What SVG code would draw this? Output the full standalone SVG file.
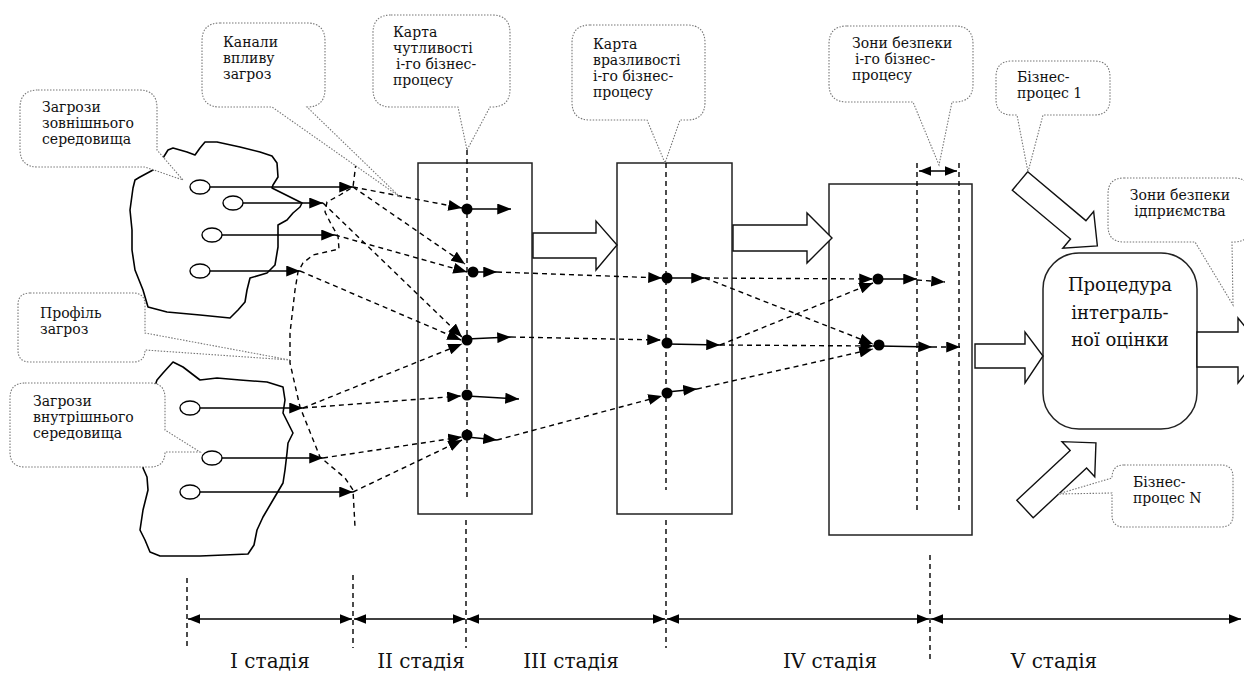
<svg xmlns="http://www.w3.org/2000/svg" width="1244" height="673" viewBox="0 0 1244 673">
<style>
text{font-family:"DejaVu Serif","Liberation Serif",serif;fill:#111}
.ct{font-size:14px}
.st{font-size:20px}
.pt{font-size:18px}
.call{fill:#fff;stroke:#777;stroke-width:1.1;stroke-dasharray:1.5 1.5}
.sol{stroke:#000;stroke-width:1.5;fill:none}
.dsh{stroke:#000;stroke-width:1.4;fill:none;stroke-dasharray:5 4}
.box{fill:#fff;stroke:#222;stroke-width:1.5}
.hol{fill:#fff;stroke:#111;stroke-width:1.4;stroke-linejoin:miter}
.cloud{fill:none;stroke:#000;stroke-width:1.6;stroke-linejoin:round}
.ell{fill:#fff;stroke:#000;stroke-width:1.4}
.dot{fill:#000}
</style>
<defs>
<marker id="ah" viewBox="0 0 10 8" refX="10" refY="4" markerWidth="14" markerHeight="11" markerUnits="userSpaceOnUse" orient="auto-start-reverse"><path d="M0,0 L10,4 L0,8 Z" fill="#000"/></marker>
<marker id="as" viewBox="0 0 10 8" refX="10" refY="4" markerWidth="12" markerHeight="11" markerUnits="userSpaceOnUse" orient="auto-start-reverse"><path d="M0,0 L10,4 L0,8 Z" fill="#000"/></marker>
</defs>
<rect width="1244" height="673" fill="#fff"/>

<g id="cloud-external">
<path class="cloud" d="M163,158 L168,150 L173,148 L187,152 L195,155 L200,148 L205,142 L217,142 L240,147 L260,152 L272,156 L277,163 L278,177 L273,185 L272,188 L302,203 L300,207 L293,213 L287,220 L278,225 L278,247 L275,265 L267,273 L250,278 L247,290 L245,302 L238,310 L230,318 L200,315 L167,312 L148,307 L143,290 L135,270 L132,250 L132,230 L130,210 L133,188 L135,180 L140,177 L153,170 L157,163 Z"/>
<ellipse class="ell" cx="200" cy="187" rx="10" ry="7"/>
<ellipse class="ell" cx="233" cy="203" rx="10" ry="7"/>
<ellipse class="ell" cx="212" cy="235" rx="10" ry="7"/>
<ellipse class="ell" cx="200" cy="271" rx="10" ry="7"/>
</g>
<g id="cloud-internal">
<path class="cloud" d="M157,380 L163,373 L173,362 L183,367 L200,380 L217,378 L240,380 L267,382 L283,387 L285,400 L283,413 L290,427 L293,433 L288,443 L287,453 L285,470 L283,483 L273,500 L263,517 L257,530 L254,545 L248,554 L200,556 L160,556 L150,552 L145,540 L140,530 L143,510 L148,490 L147,477 L143,468 L150,440 L150,400 Z"/>
<ellipse class="ell" cx="190" cy="408" rx="10" ry="7"/>
<ellipse class="ell" cx="212" cy="458" rx="10" ry="7"/>
<ellipse class="ell" cx="190" cy="492" rx="10" ry="7"/>
</g>

<g id="map-sensitivity"><rect class="box" x="418" y="163" width="114" height="351"/></g>
<g id="map-vulnerability"><rect class="box" x="617" y="163" width="115" height="351"/></g>
<g id="safety-zones-box"><rect class="box" x="829" y="184" width="143" height="351"/></g>
<g id="procedure">
<rect class="box" x="1043" y="253" width="154" height="176" rx="36" ry="36"/>
<text class="pt" text-anchor="middle" x="1120" y="291">Процедура</text>
<text class="pt" text-anchor="middle" x="1120" y="319">інтеграль-</text>
<text class="pt" text-anchor="middle" x="1120" y="346">ної оцінки</text>
</g>

<g id="big-arrows">
<polygon class="hol" points="533,233 596,233 596,221 617,245 596,270 596,258 533,258"/>
<polygon class="hol" points="733,225 807,225 807,213 832,238 807,263 807,251 733,251"/>
<polygon class="hol" points="975,344 1025,344 1025,332 1043,356 1025,383 1025,368 975,368"/>
<polygon class="hol" transform="translate(1020,181) rotate(40)" points="0,-12 76,-12 76,-24 101,0 76,24 76,12 0,12"/>
<polygon class="hol" transform="translate(1025,509) rotate(-43)" points="0,-12 73,-12 73,-24 97,0 73,24 73,12 0,12"/>
<polygon class="hol" points="1197,332 1238,332 1238,318 1264,350 1238,383 1238,367 1197,367"/>
</g>

<g id="connectors">
<polyline class="dsh" points="356,163 353,187 340,195 327,202 325,212 331,224 338,236 339,249 313,255 303,263 298,272 295,290 290,333 290,363 300,407 310,432 320,457 345,478 353,490 355,527"/>
<line class="sol" x1="210" y1="187" x2="353" y2="187" marker-end="url(#ah)"/>
<line class="sol" x1="243" y1="203" x2="323" y2="203" marker-end="url(#ah)"/>
<line class="sol" x1="222" y1="235" x2="335" y2="235" marker-end="url(#ah)"/>
<line class="sol" x1="210" y1="271" x2="300" y2="271" marker-end="url(#ah)"/>
<line class="sol" x1="200" y1="408" x2="303" y2="408" marker-end="url(#ah)"/>
<line class="sol" x1="222" y1="458" x2="323" y2="458" marker-end="url(#ah)"/>
<line class="sol" x1="200" y1="492" x2="353" y2="492" marker-end="url(#ah)"/>
<line class="dsh" x1="353" y1="187" x2="462" y2="208" marker-end="url(#ah)"/>
<line class="dsh" x1="353" y1="187" x2="465" y2="264" marker-end="url(#ah)"/>
<line class="dsh" x1="335" y1="235" x2="467" y2="272" marker-end="url(#ah)"/>
<line class="dsh" x1="323" y1="203" x2="462" y2="337" marker-end="url(#ah)"/>
<line class="dsh" x1="300" y1="271" x2="461" y2="340" marker-end="url(#ah)"/>
<line class="dsh" x1="303" y1="408" x2="462" y2="344" marker-end="url(#ah)"/>
<line class="dsh" x1="303" y1="408" x2="461" y2="396" marker-end="url(#ah)"/>
<line class="dsh" x1="323" y1="458" x2="462" y2="437" marker-end="url(#ah)"/>
<line class="dsh" x1="353" y1="492" x2="462" y2="440" marker-end="url(#ah)"/>
<line class="dsh" x1="467" y1="150" x2="467" y2="497" stroke-width="1.2"/>
<circle class="dot" cx="467" cy="209" r="5.5"/>
<circle class="dot" cx="473" cy="272" r="5.5"/>
<circle class="dot" cx="467" cy="340" r="5.5"/>
<circle class="dot" cx="467" cy="395" r="5.5"/>
<circle class="dot" cx="467" cy="435" r="5.5"/>
<line class="sol" x1="467" y1="209" x2="511" y2="209" marker-end="url(#ah)"/>
<line class="sol" x1="473" y1="272" x2="497" y2="272" marker-end="url(#ah)"/>
<line class="sol" x1="467" y1="339" x2="511" y2="337" marker-end="url(#ah)"/>
<line class="sol" x1="467" y1="396" x2="519" y2="399" marker-end="url(#ah)"/>
<line class="sol" x1="467" y1="437" x2="497" y2="440" marker-end="url(#ah)"/>
<line class="dsh" x1="497" y1="272" x2="662" y2="278" marker-end="url(#ah)"/>
<line class="dsh" x1="511" y1="337" x2="661" y2="340" marker-end="url(#ah)"/>
<line class="dsh" x1="497" y1="440" x2="662" y2="396" marker-end="url(#ah)"/>
<line class="dsh" x1="666" y1="163" x2="666" y2="490" stroke-width="1.2"/>
<circle class="dot" cx="667" cy="278" r="5.5"/>
<circle class="dot" cx="667" cy="343" r="5.5"/>
<circle class="dot" cx="667" cy="393" r="5.5"/>
<line class="sol" x1="667" y1="278" x2="705" y2="278" marker-end="url(#ah)"/>
<line class="sol" x1="667" y1="344" x2="720" y2="345" marker-end="url(#ah)"/>
<line class="sol" x1="667" y1="392" x2="697" y2="389" marker-end="url(#ah)"/>
<line class="dsh" x1="705" y1="278" x2="873" y2="279" marker-end="url(#ah)"/>
<line class="dsh" x1="705" y1="278" x2="873" y2="344" marker-end="url(#ah)"/>
<line class="dsh" x1="720" y1="345" x2="874" y2="346" marker-end="url(#ah)"/>
<line class="dsh" x1="720" y1="345" x2="873" y2="283" marker-end="url(#ah)"/>
<line class="dsh" x1="697" y1="389" x2="873" y2="349" marker-end="url(#ah)"/>
<line class="dsh" x1="917" y1="163" x2="917" y2="510" stroke-width="1.2"/>
<line class="dsh" x1="959" y1="163" x2="959" y2="510" stroke-width="1.9"/>
<line class="sol" x1="919" y1="171" x2="957" y2="171" marker-start="url(#as)" marker-end="url(#as)"/>
<circle class="dot" cx="878" cy="279" r="5.5"/>
<circle class="dot" cx="879" cy="345" r="5.5"/>
<line class="sol" x1="878" y1="279" x2="917" y2="279" marker-end="url(#ah)"/>
<line class="dsh" x1="917" y1="280" x2="945" y2="282" marker-end="url(#ah)"/>
<line class="sol" x1="879" y1="346" x2="932" y2="347" marker-end="url(#ah)"/>
<line class="dsh" x1="932" y1="347" x2="960" y2="347" marker-end="url(#ah)"/>
<line class="dsh" x1="187" y1="578" x2="187" y2="648" stroke-width="1.1"/>
<line class="dsh" x1="353" y1="575" x2="353" y2="648" stroke-width="1.1"/>
<line class="dsh" x1="466" y1="520" x2="466" y2="648" stroke-width="1.1"/>
<line class="dsh" x1="666" y1="520" x2="666" y2="648" stroke-width="1.1"/>
<line class="dsh" x1="930" y1="555" x2="930" y2="660" stroke-width="1.1"/>
<line class="sol" x1="188" y1="619" x2="352" y2="619" stroke-width="1.3" marker-start="url(#as)" marker-end="url(#as)"/>
<line class="sol" x1="354" y1="619" x2="465" y2="619" stroke-width="1.3" marker-start="url(#as)" marker-end="url(#as)"/>
<line class="sol" x1="467" y1="619" x2="665" y2="619" stroke-width="1.3" marker-start="url(#as)" marker-end="url(#as)"/>
<line class="sol" x1="667" y1="619" x2="929" y2="619" stroke-width="1.3" marker-start="url(#as)" marker-end="url(#as)"/>
<line class="sol" x1="931" y1="619" x2="1241" y2="619" stroke-width="1.3" marker-start="url(#as)" marker-end="url(#as)"/>
</g>

<g id="callout-external">
<path class="call" d="M38,90 H139 Q157,90 157,108 V150 L183,180 L145,167 H38 Q20,167 20,149 V108 Q20,90 38,90 Z"/>
<text class="ct" x="42" y="112">Загрози</text>
<text class="ct" x="42" y="128">зовнішнього</text>
<text class="ct" x="42" y="144">середовища</text>
</g>
<g id="callout-channels">
<path class="call" d="M220,23 H307 Q325,23 325,41 V89 Q325,107 307,107 L400,197 L272,107 H220 Q202,107 202,89 V41 Q202,23 220,23 Z"/>
<text class="ct" x="223" y="47">Канали</text>
<text class="ct" x="223" y="63">впливу</text>
<text class="ct" x="223" y="79">загроз</text>
</g>
<g id="callout-sensitivity">
<path class="call" d="M391,15 H492 Q510,15 510,33 V89 Q510,107 492,107 H490 L467,150 L458,107 H391 Q373,107 373,89 V33 Q373,15 391,15 Z"/>
<text class="ct" x="393" y="37">Карта</text>
<text class="ct" x="393" y="53">чутливості</text>
<text class="ct" x="396" y="69">і-го бізнес-</text>
<text class="ct" x="393" y="85">процесу</text>
</g>
<g id="callout-vulnerability">
<path class="call" d="M590,25 H687 Q705,25 705,43 V102 Q705,120 687,120 H680 L665,163 L647,120 H590 Q572,120 572,102 V43 Q572,25 590,25 Z"/>
<text class="ct" x="593" y="49">Карта</text>
<text class="ct" x="593" y="65">вразливості</text>
<text class="ct" x="593" y="81">і-го бізнес-</text>
<text class="ct" x="593" y="97">процесу</text>
</g>
<g id="callout-zones-process">
<path class="call" d="M847,26 H955 Q973,26 973,44 V84 Q973,102 955,102 H952 L939,165 L913,102 H847 Q829,102 829,84 V44 Q829,26 847,26 Z"/>
<text class="ct" x="852" y="48">Зони безпеки</text>
<text class="ct" x="855" y="64">і-го бізнес-</text>
<text class="ct" x="852" y="80">процесу</text>
</g>
<g id="callout-bp1">
<path class="call" d="M1012,61 H1094 Q1110,61 1110,77 V99 Q1110,115 1094,115 H1043 L1028,172 L1017,115 H1012 Q996,115 996,99 V77 Q996,61 1012,61 Z"/>
<text class="ct" x="1017" y="82">Бізнес-</text>
<text class="ct" x="1017" y="98">процес 1</text>
</g>
<g id="callout-zones-enterprise">
<path class="call" d="M1124,178 H1234 Q1250,178 1250,194 V226 Q1250,242 1234,242 H1232 L1233,305 L1195,242 H1124 Q1108,242 1108,226 V194 Q1108,178 1124,178 Z"/>
<text class="ct" text-anchor="middle" x="1180" y="200">Зони безпеки</text>
<text class="ct" text-anchor="middle" x="1180" y="216">ідприємства</text>
</g>
<g id="callout-profile">
<path class="call" d="M30,293 H133 Q145,293 145,305 V333 L290,360 L145,350 Q145,362 133,362 H30 Q18,362 18,350 V305 Q18,293 30,293 Z"/>
<text class="ct" x="40" y="318">Профіль</text>
<text class="ct" x="40" y="334">загроз</text>
</g>
<g id="callout-internal">
<path class="call" d="M25,383 H150 Q165,383 165,398 V430 L200,452 L165,452 Q165,467 150,467 H25 Q10,467 10,452 V398 Q10,383 25,383 Z"/>
<text class="ct" x="33" y="406">Загрози</text>
<text class="ct" x="33" y="422">внутрішнього</text>
<text class="ct" x="33" y="438">середовища</text>
</g>
<g id="callout-bpN">
<path class="call" d="M1124,465 H1221 Q1233,465 1233,477 V515 Q1233,527 1221,527 H1124 Q1112,527 1112,515 V493 L1058,494 L1112,478 Q1112,465 1124,465 Z"/>
<text class="ct" x="1133" y="487">Бізнес-</text>
<text class="ct" x="1133" y="503">процес N</text>
</g>

<g id="stage-labels">
<text class="st" text-anchor="middle" x="270" y="668">I стадія</text>
<text class="st" text-anchor="middle" x="421" y="668">II стадія</text>
<text class="st" text-anchor="middle" x="571" y="668">III стадія</text>
<text class="st" text-anchor="middle" x="830" y="668">IV стадія</text>
<text class="st" text-anchor="middle" x="1054" y="668">V стадія</text>
</g>
</svg>
